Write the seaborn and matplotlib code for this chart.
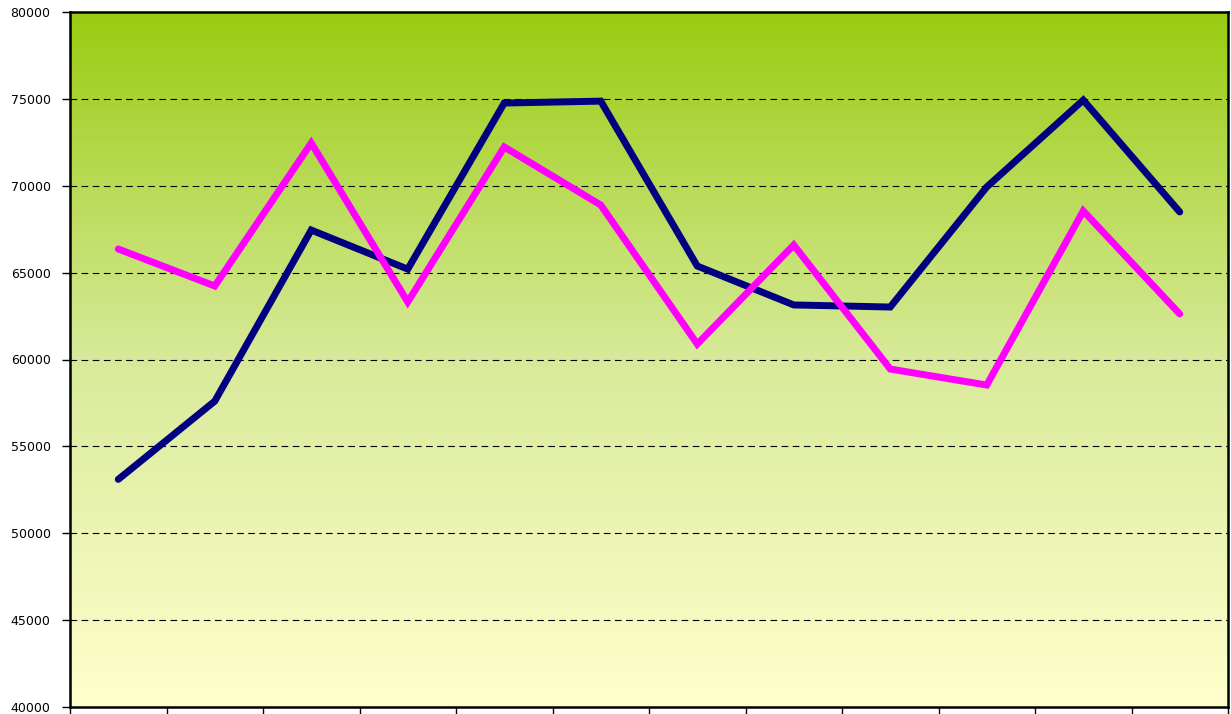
import numpy as np
import pandas as pd
import matplotlib
matplotlib.use("Agg")
import matplotlib.pyplot as plt
import seaborn as sns
from matplotlib.colors import LinearSegmentedColormap

# ── Data ──────────────────────────────────────────────────────────────────────
positions = list(range(12))
navy_vals = [53100, 57600, 67450, 65200, 74760, 74870, 65380, 63140, 63020, 69930, 74930, 68490]
pink_vals = [66360, 64230, 72460, 63310, 72230, 68890, 60890, 66590, 59450, 58530, 68550, 62620]

df = pd.DataFrame({
    "x": positions * 2,
    "value": navy_vals + pink_vals,
    "series": ["navy"] * 12 + ["pink"] * 12,
})

sns.set_style("white")
plt.rcParams['font.family'] = ['DejaVu Sans']

fig = plt.figure(figsize=(12.31, 7.14), dpi=100)
ax = fig.add_axes([70 / 1231, 7 / 714, 1158 / 1231, 695 / 714])

# gradient background
cmap = LinearSegmentedColormap.from_list("bg", ["#FFFFCC", "#D8EA9A", "#99CC11"])
grad = np.linspace(0, 1, 256).reshape(-1, 1)
ax.imshow(grad, cmap=cmap, aspect="auto", origin="lower",
          extent=[0, 1, 0, 1], transform=ax.transAxes, zorder=0)

sns.lineplot(data=df, x="x", y="value", hue="series",
             palette={"navy": "#000080", "pink": "#FF00FF"},
             linewidth=5, legend=False, ax=ax, zorder=3,
             solid_capstyle="round", solid_joinstyle="miter")

ax.set_xlim(-0.5, 11.5)
ax.set_ylim(40000, 80000)
ax.set_yticks(range(40000, 80001, 5000))
ax.set_xticks(np.arange(-0.5, 12, 1))
ax.set_xticklabels([])
ax.set_xlabel("")
ax.set_ylabel("")

for y in range(45000, 80000, 5000):
    ax.axhline(y, color="black", linestyle=(0, (6, 4)), linewidth=0.8, zorder=1)

for s in ax.spines.values():
    s.set_color("black")
    s.set_linewidth(1.8)

ax.tick_params(axis="both", direction="out", length=6, width=1, color="black",
               labelsize=9, labelcolor="black", pad=8, bottom=True, left=True)

fig.savefig("out.png", dpi=100)
